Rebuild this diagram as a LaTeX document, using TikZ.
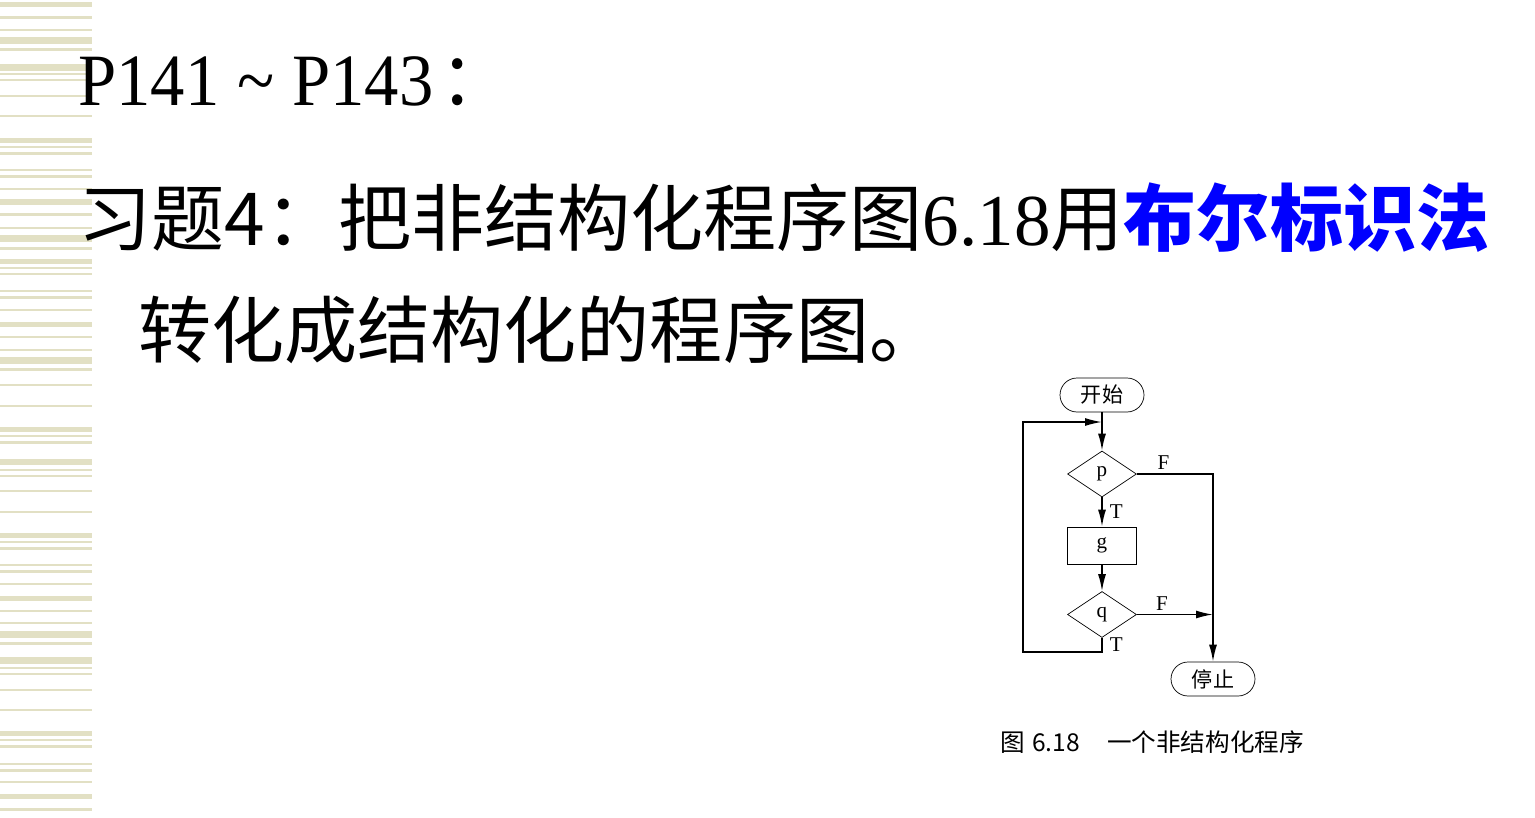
\documentclass[tikz,border=0pt]{standalone}
\usepackage{fontspec}
\setmainfont{Liberation Serif}
\newfontfamily\cjkfont{Noto Sans CJK SC}
\usetikzlibrary{shapes.geometric,arrows.meta}

\definecolor{stripe}{RGB}{226,224,196}
\definecolor{boolblue}{RGB}{0,0,255}

\tikzset{
    txt/.style={anchor=base west, inner sep=0pt},
    term/.style={draw, rectangle, rounded corners=0.34cm, minimum width=1.68cm,
        minimum height=0.68cm, inner sep=0pt, font=\cjkfont\fontsize{12}{13}\selectfont},
    decision/.style={draw, diamond, minimum width=1.38cm, minimum height=0.92cm,
        inner sep=0pt},
    proc/.style={draw, rectangle, minimum width=1.38cm, minimum height=0.74cm,
        inner sep=0pt},
    flow/.style={line width=0.9pt, -{Latex[length=0.34cm,width=0.16cm]}},
    lbl/.style={inner sep=2pt, font=\fontsize{12}{13}\selectfont}
}

\begin{document}
\begin{tikzpicture}[x=0.02cm, y=-0.02cm, font=\fontsize{12}{13}\selectfont]
    \useasboundingbox (0,0) rectangle (1535,818);

    % Stripes on the left margin
    \foreach \ya/\yb in {2/7, 16/19, 29/31, 37/44, 48/51, 64/71, 73/75, 79/81,
        95/97, 115/117, 138/143, 146/148, 152/155, 169/171, 175/178, 188/190,
        199/205, 213/216, 227/229, 235/242, 247/250, 259/264, 267/269, 273/275,
        290/292, 296/299, 309/311, 322/327, 336/338, 349/351, 357/364, 368/371,
        384/386, 405/407, 427/432, 435/437, 441/444, 459/465, 469/471, 475/477,
        490/492, 511/513, 533/538, 541/543, 547/550, 564/566, 570/573, 583/585,
        596/601, 610/612, 622/624, 631/638, 642/645, 657/664, 667/669, 673/675,
        689/691, 709/711, 731/736, 739/741, 745/748, 763/765, 769/772, 781/783,
        794/799, 808/811}
        \fill [stripe] (0,\ya) rectangle (92,\yb);

    % Heading and exercise text
    \node [txt, font=\fontsize{42}{48}\selectfont] (pages) at (78,105)
        {\scalebox{0.93}[1]{P141\hspace{0.27em}\textasciitilde\hspace{0.25em}P143\hspace{0.1em}{\cjkfont ：}}};
    \node [txt, font=\cjkfont\fontsize{41.6}{48}\selectfont] (task) at (78,245)
        {习题4：把非结构化程序图{\rmfamily 6.18}用{\bfseries\color{boolblue}布尔标识法}};
    \node [txt, font=\cjkfont\fontsize{41.6}{48}\selectfont] (task2) at (138,357)
        {转化成结构化的程序图。};

    % Flowchart
    \node [term] (start) at (1102,395) {开始};
    \node [decision] (p) at (1102,474) {p};
    \node [proc] (g) at (1102,545.5) {g};
    \node [decision] (q) at (1102,614.5) {q};
    \node [term] (stop) at (1213,679) {停止};

    \coordinate (merge) at (1102,422);
    \coordinate (loopTL) at (1023,422);
    \coordinate (loopBL) at (1023,652);

    \draw [flow] (start) -- (p);
    \draw [flow] (p) -- node [lbl, right, xshift=2pt] {T} (g);
    \draw [flow] (g) -- (q);
    \draw [flow] (p.east) -- node [lbl, above, pos=0.35] {F}
        (p.east -| stop.north) -- (stop.north);
    \draw [flow] (q.east) -- node [lbl, above, pos=0.33] {F} (q.east -| stop.north);
    \draw [flow] (q.south) -- node [lbl, right, xshift=2pt] {T} (q.south |- loopBL)
        -- (loopBL) -- (loopTL) -- (merge);

    % Caption
    \node [txt, font=\cjkfont\fontsize{14}{16}\selectfont] (caption) at (1000,751)
        {图\hspace{0.3em}6.18\hspace{1.1em}一个非结构化程序};
\end{tikzpicture}
\end{document}
